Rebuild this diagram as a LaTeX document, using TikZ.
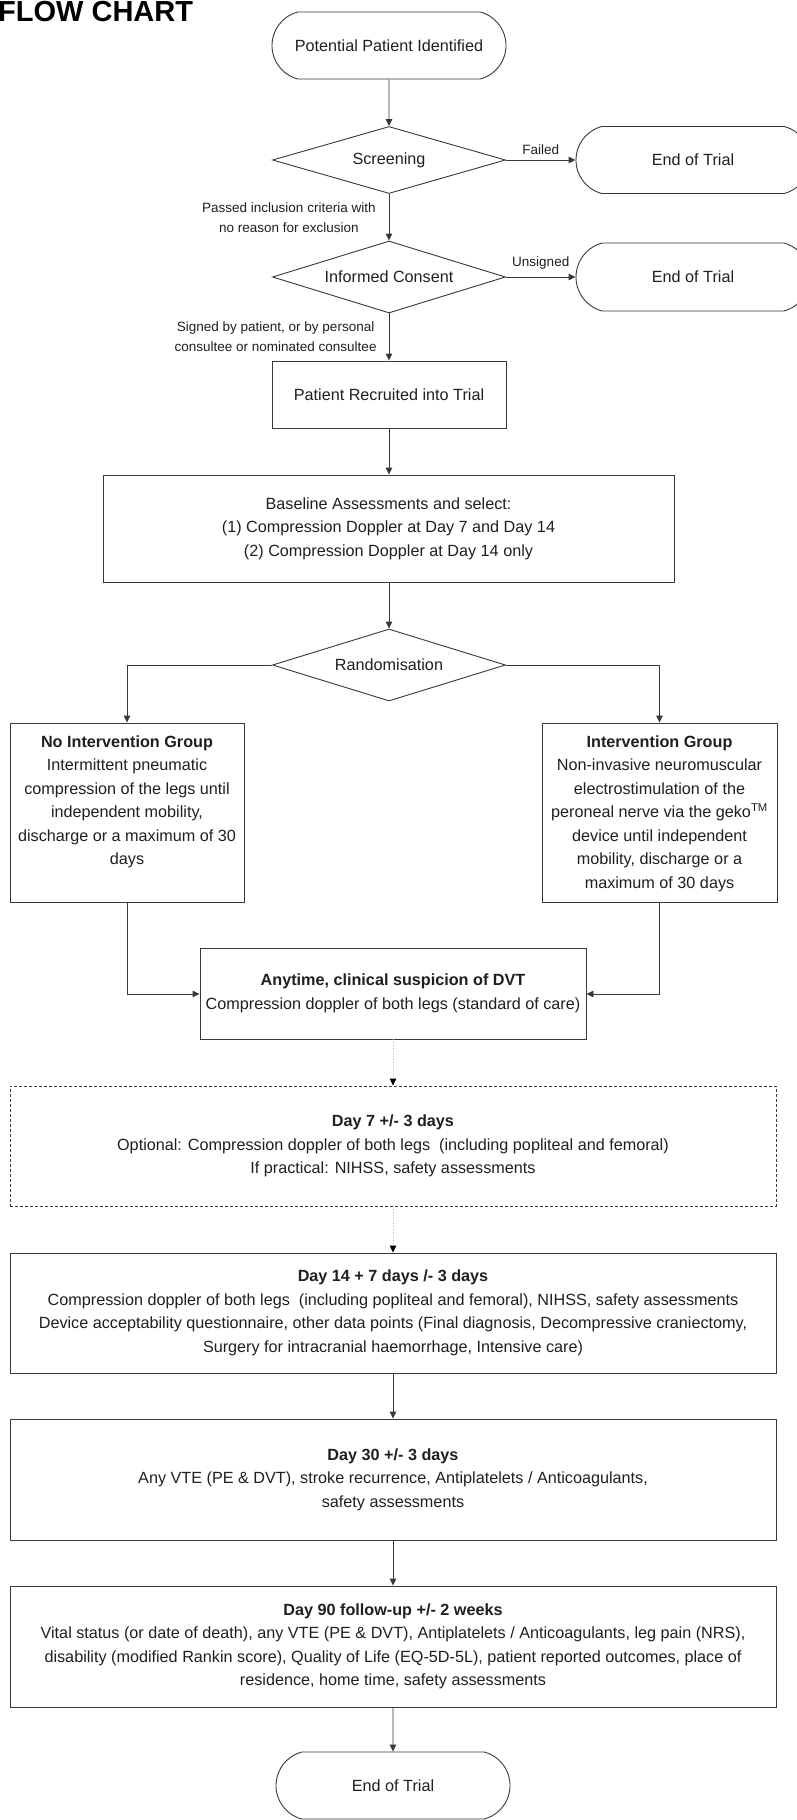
\documentclass[tikz,border=0pt]{standalone}
\usepackage{fontspec}
\setmainfont{Liberation Sans}
\usetikzlibrary{arrows.meta,shapes.geometric,shapes.misc}
\definecolor{linegray}{gray}{0.22}
\definecolor{dotgray}{gray}{0.72}
\newcommand{\grouptext}[1]{\parbox[c][154pt][t]{234pt}{\centering #1}}
\begin{document}
\begin{tikzpicture}[x=1pt,y=-1pt,font=\fontsize{16.2}{23.5}\selectfont,text=black!88,
  box/.style={draw=linegray,line width=0.9pt,rectangle,align=center,inner sep=0pt},
  term/.style={draw=linegray,line width=0.9pt,rounded rectangle,rounded rectangle arc length=150,minimum width=234pt,minimum height=67pt,inner sep=0pt},
  decide/.style={draw=linegray,line width=0.9pt,diamond,aspect=3.5,minimum width=233pt,minimum height=67pt,inner sep=0pt},
  lbl/.style={font=\fontsize{13.5}{20}\selectfont,align=center,inner sep=1pt},
  flow/.style={draw=linegray,line width=0.9pt,-{Triangle[length=7pt,width=6.5pt]}},
  soft/.style={draw=dotgray,line width=0.8pt,dotted,-{Triangle[length=7pt,width=6.5pt,color=black]}}]
\path[use as bounding box,clip] (0,0) rectangle (797,1820);
\node[anchor=base west,inner sep=0pt,text=black,font=\fontsize{29}{34}\selectfont\bfseries] (title) at (-2,21) {FLOW CHART};
\node[term] (start) at (389,45.5) {Potential Patient Identified};
\node[decide] (screen) at (389,160) {Screening};
\node[term] (endA) at (693,160) {End of Trial};
\node[decide,minimum height=72pt] (consent) at (389,277) {Informed Consent};
\node[term,minimum height=68pt] (endB) at (693,277) {End of Trial};
\node[box,minimum width=234pt,minimum height=67pt] (recruit) at (389,394.5) {Patient Recruited into Trial};
\node[box,minimum width=571pt,minimum height=107pt] (base) at (388.5,528.5) {Baseline Assessments and select:\\ (1) Compression Doppler at Day 7 and Day 14\\ (2) Compression Doppler at Day 14 only};
\node[decide,minimum height=72pt] (rand) at (389,665) {Randomisation};
\node[box,minimum width=234pt,minimum height=179pt] (noint) at (127,812.5) {\grouptext{\textbf{No Intervention Group}\\ Intermittent pneumatic\\ compression of the legs until\\ independent mobility,\\ discharge or a maximum of 30\\ days}};
\node[box,minimum width=235pt,minimum height=179pt] (inter) at (659.5,812.5) {\grouptext{\textbf{Intervention Group}\\ Non-invasive neuromuscular\\ electrostimulation of the\\ peroneal nerve via the geko\textsuperscript{TM}\\ device until independent\\ mobility, discharge or a\\ maximum of 30 days}};
\node[box,minimum width=386pt,minimum height=91pt] (anytime) at (393,993.5) {\textbf{Anytime, clinical suspicion of DVT}\\ Compression doppler of both legs (standard of care)};
\node[box,dash pattern=on 3pt off 2pt,minimum width=766pt,minimum height=120pt] (day7) at (393,1146) {\textbf{Day 7 +/- 3 days}\\ Optional: Compression doppler of both legs\ \ (including popliteal and femoral)\\ If practical: NIHSS, safety assessments};
\node[box,minimum width=766pt,minimum height=120pt] (day14) at (393,1313) {\textbf{Day 14 + 7 days /- 3 days}\\ Compression doppler of both legs\ \ (including popliteal and femoral), NIHSS, safety assessments\\ Device acceptability questionnaire, other data points (Final diagnosis, Decompressive craniectomy,\\ Surgery for intracranial haemorrhage, Intensive care)};
\node[box,minimum width=766pt,minimum height=121pt] (day30) at (393,1479.5) {\textbf{Day 30 +/- 3 days}\\ Any VTE (PE \& DVT), stroke recurrence, Antiplatelets / Anticoagulants,\\ safety assessments};
\node[box,minimum width=766pt,minimum height=121pt] (day90) at (393,1646.5) {\textbf{Day 90 follow-up +/- 2 weeks}\\ Vital status (or date of death), any VTE (PE \& DVT), Antiplatelets / Anticoagulants, leg pain (NRS),\\ disability (modified Rankin score), Quality of Life (EQ-5D-5L), patient reported outcomes, place of\\ residence, home time, safety assessments};
\node[term] (endC) at (393,1785.5) {End of Trial};
\draw[flow] (start) -- (screen);
\draw[flow] (screen) -- (endA) node[lbl,midway,above=4pt] {Failed};
\draw[flow] (screen) -- (consent) node[lbl,midway,left=12pt] {Passed inclusion criteria with\\ no reason for exclusion};
\draw[flow] (consent) -- (endB) node[lbl,midway,above=6pt] {Unsigned};
\draw[flow] (consent) -- (recruit) node[lbl,midway,left=11pt] {Signed by patient, or by personal\\ consultee or nominated consultee};
\draw[flow] (recruit) -- (recruit|-base.north);
\draw[flow] (rand|-base.south) -- (rand);
\draw[flow] (rand.west) -| (noint.north);
\draw[flow] (rand.east) -| (inter.north);
\draw[flow] (noint.south) |- ([yshift=-0.5pt]anytime.west);
\draw[flow] (inter.south) |- ([yshift=-0.5pt]anytime.east);
\draw[soft] (anytime) -- (day7);
\draw[soft] (day7) -- (day14);
\draw[flow] (day14) -- (day30);
\draw[flow] (day30) -- (day90);
\draw[flow] (day90) -- (endC);
\end{tikzpicture}
\end{document}
